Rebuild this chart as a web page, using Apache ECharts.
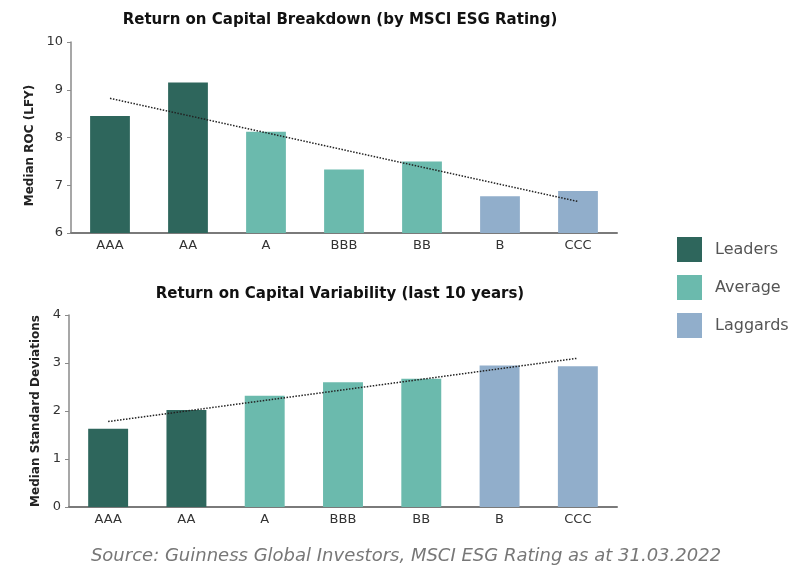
<!DOCTYPE html>
<html>
<head>
<meta charset="utf-8">
<script src="https://cdn.jsdelivr.net/npm/echarts@6/dist/echarts.min.js"></script>
<style>
  html, body { margin: 0; padding: 0; background: #fff; }
  #chart { width: 792px; height: 567px; }
</style>
</head>
<body>
<div id="chart"></div>
<script>
// ratings and their group
var categories = ['AAA', 'AA', 'A', 'BBB', 'BB', 'B', 'CCC']
var groupOf = ['Leaders', 'Leaders', 'Average', 'Average', 'Average', 'Laggards', 'Laggards']
var groups = ['Leaders', 'Average', 'Laggards']
var groupColors = ['#2e665c', '#6bbaad', '#91aecb']

// Return on capital (median ROC, LFY)
var rocValues = [8.45, 9.15, 8.12, 7.33, 7.5, 6.77, 6.88]
var rocTrend = [['AAA', 8.82], ['CCC', 6.66]]

// Variability (median standard deviations)
var sdValues = [1.63, 2.02, 2.32, 2.6, 2.67, 2.95, 2.93]
var sdTrend = [['AAA', 1.78], ['CCC', 3.1]]

var topTicks = { min: 6, max: 10, interval: 1 }
var bottomTicks = { min: 0, max: 4, interval: 1 }

var font = 'DejaVu Sans'
var chart = echarts.init(document.getElementById('chart'))

function groupData (values, g) {
  return values.map(function (v, i) { return groupOf[i] === g ? v : '-' })
}

var series = []
;[rocValues, sdValues].forEach(function (vals, k) {
  groups.forEach(function (g, gi) {
    series.push({
      name: g,
      type: 'bar',
      xAxisIndex: k,
      yAxisIndex: k,
      barWidth: '51%',
      barGap: '-100%',
      itemStyle: { color: groupColors[gi] },
      data: groupData(vals, g)
    })
  })
})
series.push({
  type: 'line', xAxisIndex: 0, yAxisIndex: 0, symbol: 'none',
  lineStyle: { type: 'dotted', color: '#222', width: 1.5 },
  data: rocTrend, z: 5
})
series.push({
  type: 'line', xAxisIndex: 1, yAxisIndex: 1, symbol: 'none',
  lineStyle: { type: 'dotted', color: '#222', width: 1.5 },
  data: sdTrend, z: 5
})

function xAxisFor (k) {
  return {
    type: 'category',
    gridIndex: k,
    data: categories,
    axisTick: { show: false },
    axisLine: { lineStyle: { color: '#7a7a7a', width: 2 } },
    axisLabel: { color: '#333', fontSize: 13, fontFamily: font, margin: 6 }
  }
}
function yAxisFor (k, ticks, name, pad) {
  return {
    type: 'value',
    gridIndex: k,
    min: ticks.min, max: ticks.max, interval: ticks.interval,
    name: name,
    nameLocation: 'middle',
    nameGap: 25,
    nameTextStyle: { color: '#222', fontSize: 12, fontWeight: 'bold', fontFamily: font, padding: pad },
    axisLine: { show: true, lineStyle: { color: '#8a8a8a', width: 1.5 } },
    axisTick: { show: true, length: 4, lineStyle: { color: '#8a8a8a' } },
    splitLine: { show: false },
    axisLabel: { color: '#333', fontSize: 13, fontFamily: font, margin: 8 }
  }
}

chart.setOption({
  animation: false,
  title: [
    {
      text: 'Return on Capital Breakdown (by MSCI ESG Rating)',
      left: 335, top: 8, textAlign: 'center',
      textStyle: { fontSize: 15, fontWeight: 'bold', color: '#111', fontFamily: font }
    },
    {
      text: 'Return on Capital Variability (last 10 years)',
      left: 335, top: 282, textAlign: 'center',
      textStyle: { fontSize: 15, fontWeight: 'bold', color: '#111', fontFamily: font }
    },
    {
      text: 'Source: Guinness Global Investors, MSCI ESG Rating as at 31.03.2022',
      left: 401, top: 542, textAlign: 'center',
      textStyle: { fontSize: 18, fontWeight: 'normal', fontStyle: 'italic', color: '#777', fontFamily: font }
    }
  ],
  legend: {
    data: groups,
    orient: 'vertical',
    left: 677, top: 237,
    padding: 0,
    itemWidth: 25, itemHeight: 25, itemGap: 13,
    icon: 'rect',
    textStyle: { fontSize: 16, color: '#555', fontFamily: font, padding: [0, 0, 0, 8] }
  },
  grid: [
    { left: 71, top: 42, width: 546, height: 191 },
    { left: 69, top: 315, width: 548, height: 192 }
  ],
  xAxis: [xAxisFor(0), xAxisFor(1)],
  yAxis: [yAxisFor(0, topTicks, 'Median ROC (LFY)', [0, 16, 0, 0]), yAxisFor(1, bottomTicks, 'Median Standard Deviations', [0, 0, 0, 0])],
  series: series
})
</script>
</body>
</html>
